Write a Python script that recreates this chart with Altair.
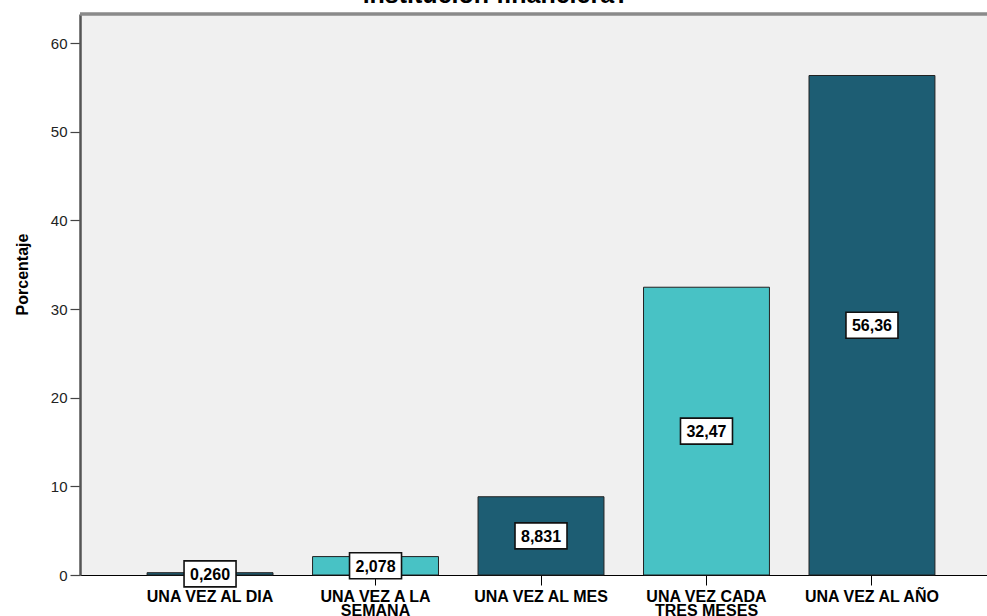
import altair as alt
import pandas as pd

categories = ["UNA VEZ AL DIA", "UNA VEZ A LA SEMANA", "UNA VEZ AL MES",
              "UNA VEZ CADA TRES MESES", "UNA VEZ AL AÑO"]
label_lines = [["UNA VEZ AL DIA"], ["UNA VEZ A LA", "SEMANA"], ["UNA VEZ AL MES"],
               ["UNA VEZ CADA", "TRES MESES"], ["UNA VEZ AL AÑO"]]
values = [0.260, 2.078, 8.831, 32.47, 56.36]
value_labels = ["0,260", "2,078", "8,831", "32,47", "56,36"]
bar_colors = ["#1d5d73", "#48c2c5", "#1d5d73", "#48c2c5", "#1d5d73"]
y_ticks = [0, 10, 20, 30, 40, 50, 60]
title_text = "institución financiera?"

df = pd.DataFrame({"cat": categories, "val": values, "lab": value_labels, "col": bar_colors})

FONT = "Liberation Sans"
W, H = 907, 561

# label expression for multi-line x labels
parts = []
for c, lines in zip(categories, label_lines):
    arr = "[" + ",".join("'" + l + "'" for l in lines) + "]"
    parts.append(f"datum.value == '{c}' ? {arr} : ")
label_expr = "".join(parts) + "datum.value"

x_enc = alt.X("cat:N", sort=categories,
              scale=alt.Scale(paddingInner=0.239, paddingOuter=0.36, align=0.563),
              axis=alt.Axis(title=None, labelAngle=0, labelFont=FONT, labelFontSize=16,
                            labelFontWeight="bold", labelColor="#000", labelLineHeight=14,
                            labelPadding=3, tickSize=10, tickColor="#000", tickWidth=1,
                            domainColor="#000", domainWidth=1.2, labelExpr=label_expr,
                            labelBaseline="top"))
y_scale = alt.Scale(domain=[0, 63.3], nice=False, zero=True)

bars = alt.Chart(df).mark_bar(stroke="#222", strokeWidth=1).encode(
    x=x_enc,
    y=alt.Y("val:Q", scale=y_scale,
            axis=alt.Axis(title="Porcentaje", values=y_ticks, grid=False, labelFont=FONT,
                          labelFontSize=15, labelColor="#222", tickSize=10, tickColor="#444",
                          tickWidth=1.2, domainColor="#555", domainWidth=2.5,
                          titleFont=FONT, titleFontSize=16, titleFontWeight="bold",
                          titleColor="#000", titleX=-58, titleY=260, titleAngle=270,
                          titleAlign="center", titleBaseline="middle", labelPadding=3)),
    color=alt.Color("col:N", scale=None),
)

boxes = alt.Chart(df).transform_calculate(mid="datum.val / 2").mark_point(
    shape="M-1,-0.5H1V0.5H-1Z", size=2704, filled=True, fill="white",
    stroke="#111", strokeWidth=1.6, opacity=1
).encode(
    x=alt.X("cat:N", sort=categories),
    y=alt.Y("mid:Q", scale=y_scale),
)

texts = alt.Chart(df).transform_calculate(mid="datum.val / 2").mark_text(
    font=FONT, fontSize=16, fontWeight="bold", color="#000", baseline="middle", dy=1
).encode(
    x=alt.X("cat:N", sort=categories),
    y=alt.Y("mid:Q", scale=y_scale),
    text="lab:N",
)

top_rule = alt.Chart(df).mark_rule(color="#8a8a8a", strokeWidth=2.5).encode(
    x=alt.value(0), x2=alt.value(W + 10), y=alt.value(0)
)

title = alt.Chart(pd.DataFrame({"t": [title_text]})).mark_text(
    font=FONT, fontSize=25, fontWeight="bold", color="#000", baseline="alphabetic", align="center"
).encode(x=alt.value(416), y=alt.value(-11), text="t:N")

chart = alt.layer(bars, boxes, texts, top_rule, title).properties(
    width=W, height=H,
    autosize=alt.AutoSizeParams(type="none"),
    padding={"left": 80, "top": 14, "right": 0, "bottom": 41},
    background="white",
).configure_view(stroke=None, fill="#f0f0f0")

chart.save("out.html", embed_options={"renderer": "svg", "actions": False})
